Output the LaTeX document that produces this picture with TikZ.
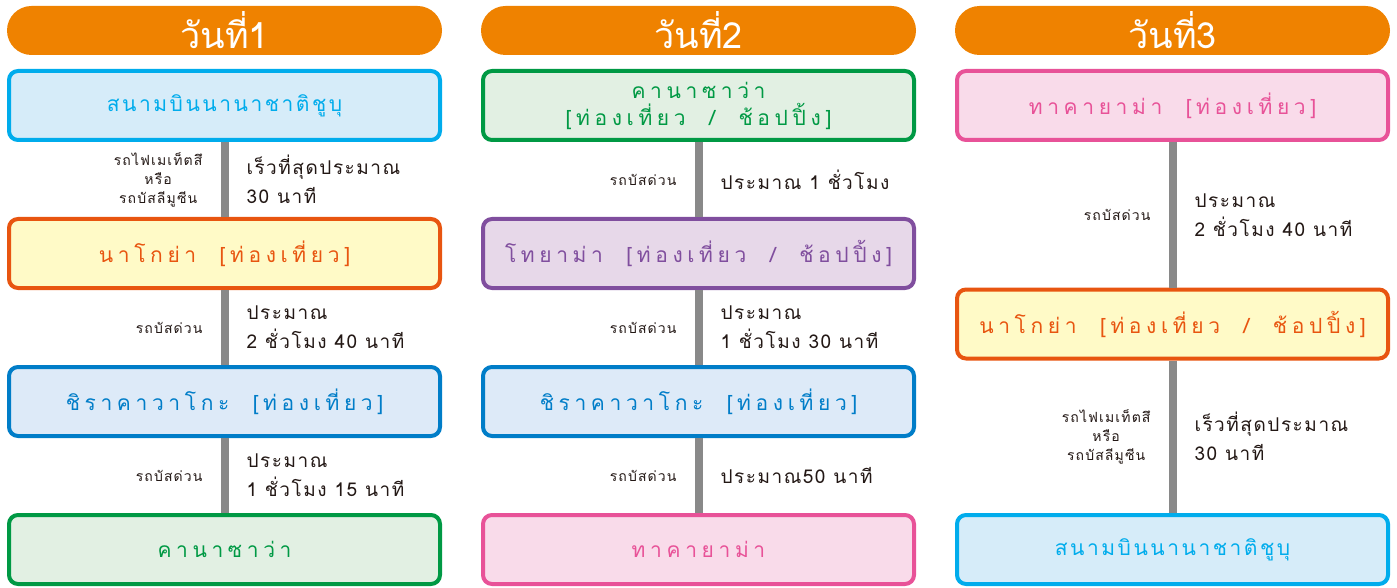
\documentclass[tikz,border=0pt]{standalone}
\usepackage{fontspec}
\setmainfont[Script=Thai]{Loma}
\newfontfamily\thaiwide[Script=Thai,LetterSpace=22,WordSpace=2]{Loma}
\newfontfamily\thaiair[Script=Thai,LetterSpace=12]{Loma}
\newfontfamily\thaimid[Script=Thai,LetterSpace=8,WordSpace=3]{Loma}
\newfontfamily\thaismall[Script=Thai,LetterSpace=8]{Loma}
\usepackage{xcolor}
\usepackage{tikz}
\usetikzlibrary{positioning}

\definecolor{dayorange}{RGB}{239,130,0}
\definecolor{skyline}{RGB}{0,172,236}
\definecolor{skyfill}{RGB}{214,236,249}
\definecolor{orangeline}{RGB}{232,85,16}
\definecolor{orangefill}{RGB}{255,250,199}
\definecolor{blueline}{RGB}{0,125,200}
\definecolor{bluefill}{RGB}{221,234,248}
\definecolor{greenline}{RGB}{0,153,68}
\definecolor{greenfill}{RGB}{226,240,227}
\definecolor{purpleline}{RGB}{128,78,158}
\definecolor{purplefill}{RGB}{231,216,233}
\definecolor{pinkline}{RGB}{232,82,152}
\definecolor{pinkfill}{RGB}{249,219,234}
\definecolor{routegray}{RGB}{137,137,137}
\definecolor{inkdark}{RGB}{35,24,21}

\tikzset{
  daybar/.style={rectangle, fill=dayorange, rounded corners=24.5pt, minimum width=435pt, minimum height=49pt, inner sep=0pt, text=white, font=\fontsize{36}{40}\selectfont},
  place/.style={draw, rectangle, rounded corners=9pt, line width=4pt, minimum width=431pt, minimum height=69pt, align=center, font=\thaiwide\fontsize{21}{27}\selectfont},
  airport/.style={place, draw=skyline, fill=skyfill, text=skyline, font=\thaiair\fontsize{21}{27}\selectfont},
  nagoya/.style={place, draw=orangeline, fill=orangefill, text=orangeline},
  shirakawa/.style={place, draw=blueline, fill=bluefill, text=blueline},
  kanazawa/.style={place, draw=greenline, fill=greenfill, text=greenline},
  toyama/.style={place, draw=purpleline, fill=purplefill, text=purpleline},
  takayama/.style={place, draw=pinkline, fill=pinkfill, text=pinkline},
  route/.style={line width=8pt, draw=routegray},
  via/.style={left=18pt, inner sep=0pt, align=center, text=inkdark, font=\thaismall\fontsize{14}{19}\selectfont},
  time/.style={right=18pt, inner sep=0pt, align=left, text=inkdark, font=\thaimid\fontsize{19}{29}\selectfont}
}

\begin{document}
\begin{tikzpicture}[x=1pt, y=-1pt]
        \useasboundingbox (0,0) rectangle (1397,588);

        % Day headers
        \node[daybar] (day1) at (224.5,30.5) {วันที่1};
        \node[daybar] (day2) at (698.5,30.5) {วันที่2};
        \node[daybar] (day3) at (1172.5,30.5) {วันที่3};

        % Day 1 column
        \node[airport] (airA) at (224.5,105.5) {สนามบินนานาชาติชูบุ};
        \node[nagoya] (nagoyaA) at (224.5,253.5) {นาโกย่า [ท่องเที่ยว]};
        \node[shirakawa] (shirakawaA) at (224.5,401.5) {ชิราคาวาโกะ [ท่องเที่ยว]};
        \node[kanazawa] (kanazawaA) at (224.5,549.5) {คานาซาว่า};

        % Day 2 column
        \node[kanazawa] (kanazawaB) at (698.5,105.5) {คานาซาว่า\\{}[ท่องเที่ยว / ช้อปปิ้ง]};
        \node[toyama] (toyamaB) at (698.5,253.5) {โทยาม่า [ท่องเที่ยว / ช้อปปิ้ง]};
        \node[shirakawa] (shirakawaB) at (698.5,401.5) {ชิราคาวาโกะ [ท่องเที่ยว]};
        \node[takayama] (takayamaB) at (698.5,549.5) {ทาคายาม่า};

        % Day 3 column
        \node[takayama] (takayamaC) at (1172.5,105.5) {ทาคายาม่า [ท่องเที่ยว]};
        \node[nagoya] (nagoyaC) at (1172.5,324) {นาโกย่า [ท่องเที่ยว / ช้อปปิ้ง]};
        \node[airport] (airC) at (1172.5,549.5) {สนามบินนานาชาติชูบุ};

        % Routes with transport and travel time
        \draw[route] (airA) -- node[via] {รถไฟเมเท็ตสึ\\หรือ\\รถบัสลีมูซีน} node[time] {เร็วที่สุดประมาณ\\30 นาที} (nagoyaA);
        \draw[route] (nagoyaA) -- node[via] {รถบัสด่วน} node[time] {ประมาณ\\2 ชั่วโมง 40 นาที} (shirakawaA);
        \draw[route] (shirakawaA) -- node[via] {รถบัสด่วน} node[time] {ประมาณ\\1 ชั่วโมง 15 นาที} (kanazawaA);

        \draw[route] (kanazawaB) -- node[via] {รถบัสด่วน} node[time] {ประมาณ 1 ชั่วโมง} (toyamaB);
        \draw[route] (toyamaB) -- node[via] {รถบัสด่วน} node[time] {ประมาณ\\1 ชั่วโมง 30 นาที} (shirakawaB);
        \draw[route] (shirakawaB) -- node[via] {รถบัสด่วน} node[time] {ประมาณ50 นาที} (takayamaB);

        \draw[route] (takayamaC) -- node[via] {รถบัสด่วน} node[time] {ประมาณ\\2 ชั่วโมง 40 นาที} (nagoyaC);
        \draw[route] (nagoyaC) -- node[via] {รถไฟเมเท็ตสึ\\หรือ\\รถบัสลีมูซีน} node[time] {เร็วที่สุดประมาณ\\30 นาที} (airC);
    \end{tikzpicture}
\end{document}
